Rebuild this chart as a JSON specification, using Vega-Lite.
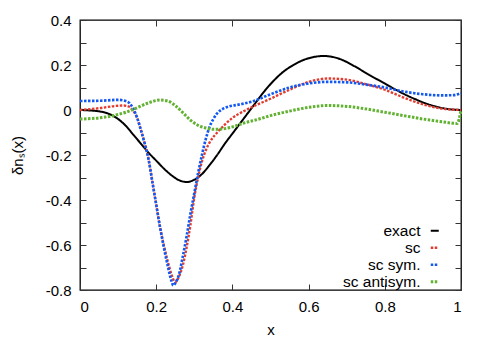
{
  "$schema": "https://vega.github.io/schema/vega-lite/v6.json",
  "width": 381,
  "height": 270,
  "autosize": {"type": "none"},
  "padding": {"left": 80, "top": 20, "right": 30, "bottom": 53},
  "config": {
    "font": "Liberation Sans",
    "view": {"stroke": "black", "strokeWidth": 1.3},
    "axis": {"grid": false, "domain": false, "labelFont": "Liberation Sans", "labelFontSize": 15, "labelColor": "black", "titleFont": "Liberation Sans", "titleFontSize": 15, "titleFontWeight": "normal", "titleColor": "black", "tickColor": "#333", "tickWidth": 1}
  },
  "data": {"values": [
    {"s": "exact", "x": 0, "y": 0}, {"s": "exact", "x": 0.05, "y": -0.006}, {"s": "exact", "x": 0.08, "y": -0.02}, {"s": "exact", "x": 0.1, "y": -0.04}, {"s": "exact", "x": 0.12, "y": -0.07}, {"s": "exact", "x": 0.14, "y": -0.11}, {"s": "exact", "x": 0.16, "y": -0.15}, {"s": "exact", "x": 0.18, "y": -0.19}, {"s": "exact", "x": 0.2, "y": -0.225}, {"s": "exact", "x": 0.22, "y": -0.26}, {"s": "exact", "x": 0.24, "y": -0.29}, {"s": "exact", "x": 0.26, "y": -0.312}, {"s": "exact", "x": 0.28, "y": -0.32}, {"s": "exact", "x": 0.3, "y": -0.31}, {"s": "exact", "x": 0.32, "y": -0.285}, {"s": "exact", "x": 0.34, "y": -0.245}, {"s": "exact", "x": 0.36, "y": -0.2}, {"s": "exact", "x": 0.38, "y": -0.15}, {"s": "exact", "x": 0.4, "y": -0.105}, {"s": "exact", "x": 0.42, "y": -0.06}, {"s": "exact", "x": 0.44, "y": -0.015}, {"s": "exact", "x": 0.46, "y": 0.03}, {"s": "exact", "x": 0.48, "y": 0.075}, {"s": "exact", "x": 0.5, "y": 0.115}, {"s": "exact", "x": 0.53, "y": 0.165}, {"s": "exact", "x": 0.56, "y": 0.2}, {"s": "exact", "x": 0.6, "y": 0.23}, {"s": "exact", "x": 0.64, "y": 0.24}, {"s": "exact", "x": 0.68, "y": 0.228}, {"s": "exact", "x": 0.72, "y": 0.195}, {"s": "exact", "x": 0.76, "y": 0.155}, {"s": "exact", "x": 0.8, "y": 0.118}, {"s": "exact", "x": 0.84, "y": 0.08}, {"s": "exact", "x": 0.88, "y": 0.048}, {"s": "exact", "x": 0.92, "y": 0.022}, {"s": "exact", "x": 0.96, "y": 0.006}, {"s": "exact", "x": 1, "y": 0},
    {"s": "sc", "x": 0, "y": 0}, {"s": "sc", "x": 0.05, "y": 0.008}, {"s": "sc", "x": 0.1, "y": 0.019}, {"s": "sc", "x": 0.115, "y": 0.02}, {"s": "sc", "x": 0.13, "y": 0.013}, {"s": "sc", "x": 0.14, "y": -0.005}, {"s": "sc", "x": 0.15, "y": -0.035}, {"s": "sc", "x": 0.16, "y": -0.09}, {"s": "sc", "x": 0.17, "y": -0.15}, {"s": "sc", "x": 0.18, "y": -0.22}, {"s": "sc", "x": 0.19, "y": -0.32}, {"s": "sc", "x": 0.2, "y": -0.42}, {"s": "sc", "x": 0.21, "y": -0.52}, {"s": "sc", "x": 0.22, "y": -0.6}, {"s": "sc", "x": 0.23, "y": -0.67}, {"s": "sc", "x": 0.24, "y": -0.73}, {"s": "sc", "x": 0.25, "y": -0.765}, {"s": "sc", "x": 0.26, "y": -0.74}, {"s": "sc", "x": 0.27, "y": -0.69}, {"s": "sc", "x": 0.28, "y": -0.61}, {"s": "sc", "x": 0.29, "y": -0.51}, {"s": "sc", "x": 0.3, "y": -0.39}, {"s": "sc", "x": 0.31, "y": -0.3}, {"s": "sc", "x": 0.32, "y": -0.23}, {"s": "sc", "x": 0.33, "y": -0.18}, {"s": "sc", "x": 0.34, "y": -0.145}, {"s": "sc", "x": 0.36, "y": -0.1}, {"s": "sc", "x": 0.38, "y": -0.065}, {"s": "sc", "x": 0.4, "y": -0.035}, {"s": "sc", "x": 0.43, "y": -0.005}, {"s": "sc", "x": 0.46, "y": 0.02}, {"s": "sc", "x": 0.5, "y": 0.05}, {"s": "sc", "x": 0.55, "y": 0.09}, {"s": "sc", "x": 0.6, "y": 0.125}, {"s": "sc", "x": 0.65, "y": 0.14}, {"s": "sc", "x": 0.7, "y": 0.135}, {"s": "sc", "x": 0.75, "y": 0.115}, {"s": "sc", "x": 0.8, "y": 0.09}, {"s": "sc", "x": 0.85, "y": 0.055}, {"s": "sc", "x": 0.9, "y": 0.025}, {"s": "sc", "x": 0.95, "y": 0.006}, {"s": "sc", "x": 1, "y": 0},
    {"s": "sc sym.", "x": 0, "y": 0.04}, {"s": "sc sym.", "x": 0.05, "y": 0.041}, {"s": "sc sym.", "x": 0.1, "y": 0.045}, {"s": "sc sym.", "x": 0.12, "y": 0.04}, {"s": "sc sym.", "x": 0.13, "y": 0.03}, {"s": "sc sym.", "x": 0.14, "y": 0.005}, {"s": "sc sym.", "x": 0.15, "y": -0.035}, {"s": "sc sym.", "x": 0.16, "y": -0.09}, {"s": "sc sym.", "x": 0.17, "y": -0.15}, {"s": "sc sym.", "x": 0.18, "y": -0.22}, {"s": "sc sym.", "x": 0.19, "y": -0.32}, {"s": "sc sym.", "x": 0.2, "y": -0.42}, {"s": "sc sym.", "x": 0.21, "y": -0.52}, {"s": "sc sym.", "x": 0.22, "y": -0.61}, {"s": "sc sym.", "x": 0.23, "y": -0.69}, {"s": "sc sym.", "x": 0.24, "y": -0.76}, {"s": "sc sym.", "x": 0.245, "y": -0.78}, {"s": "sc sym.", "x": 0.25, "y": -0.77}, {"s": "sc sym.", "x": 0.26, "y": -0.73}, {"s": "sc sym.", "x": 0.27, "y": -0.65}, {"s": "sc sym.", "x": 0.28, "y": -0.56}, {"s": "sc sym.", "x": 0.29, "y": -0.46}, {"s": "sc sym.", "x": 0.3, "y": -0.37}, {"s": "sc sym.", "x": 0.31, "y": -0.28}, {"s": "sc sym.", "x": 0.32, "y": -0.2}, {"s": "sc sym.", "x": 0.33, "y": -0.13}, {"s": "sc sym.", "x": 0.34, "y": -0.075}, {"s": "sc sym.", "x": 0.35, "y": -0.04}, {"s": "sc sym.", "x": 0.36, "y": -0.015}, {"s": "sc sym.", "x": 0.37, "y": 0.0}, {"s": "sc sym.", "x": 0.39, "y": 0.015}, {"s": "sc sym.", "x": 0.42, "y": 0.025}, {"s": "sc sym.", "x": 0.45, "y": 0.037}, {"s": "sc sym.", "x": 0.5, "y": 0.07}, {"s": "sc sym.", "x": 0.55, "y": 0.1}, {"s": "sc sym.", "x": 0.6, "y": 0.118}, {"s": "sc sym.", "x": 0.65, "y": 0.125}, {"s": "sc sym.", "x": 0.7, "y": 0.123}, {"s": "sc sym.", "x": 0.75, "y": 0.113}, {"s": "sc sym.", "x": 0.8, "y": 0.1}, {"s": "sc sym.", "x": 0.85, "y": 0.082}, {"s": "sc sym.", "x": 0.9, "y": 0.07}, {"s": "sc sym.", "x": 0.95, "y": 0.065}, {"s": "sc sym.", "x": 0.98, "y": 0.066}, {"s": "sc sym.", "x": 1, "y": 0.075},
    {"s": "sc antisym.", "x": 0, "y": -0.04}, {"s": "sc antisym.", "x": 0.05, "y": -0.035}, {"s": "sc antisym.", "x": 0.1, "y": -0.02}, {"s": "sc antisym.", "x": 0.12, "y": -0.01}, {"s": "sc antisym.", "x": 0.15, "y": 0.01}, {"s": "sc antisym.", "x": 0.18, "y": 0.032}, {"s": "sc antisym.", "x": 0.21, "y": 0.044}, {"s": "sc antisym.", "x": 0.23, "y": 0.04}, {"s": "sc antisym.", "x": 0.25, "y": 0.02}, {"s": "sc antisym.", "x": 0.27, "y": -0.012}, {"s": "sc antisym.", "x": 0.29, "y": -0.045}, {"s": "sc antisym.", "x": 0.31, "y": -0.068}, {"s": "sc antisym.", "x": 0.33, "y": -0.08}, {"s": "sc antisym.", "x": 0.35, "y": -0.086}, {"s": "sc antisym.", "x": 0.37, "y": -0.085}, {"s": "sc antisym.", "x": 0.4, "y": -0.075}, {"s": "sc antisym.", "x": 0.43, "y": -0.058}, {"s": "sc antisym.", "x": 0.47, "y": -0.04}, {"s": "sc antisym.", "x": 0.5, "y": -0.025}, {"s": "sc antisym.", "x": 0.55, "y": -0.005}, {"s": "sc antisym.", "x": 0.6, "y": 0.012}, {"s": "sc antisym.", "x": 0.65, "y": 0.02}, {"s": "sc antisym.", "x": 0.7, "y": 0.016}, {"s": "sc antisym.", "x": 0.75, "y": 0.005}, {"s": "sc antisym.", "x": 0.8, "y": -0.01}, {"s": "sc antisym.", "x": 0.85, "y": -0.025}, {"s": "sc antisym.", "x": 0.9, "y": -0.04}, {"s": "sc antisym.", "x": 0.95, "y": -0.052}, {"s": "sc antisym.", "x": 0.99, "y": -0.06}, {"s": "sc antisym.", "x": 1, "y": 0}
  ]},
  "layer": [
    {
      "mark": {"type": "line", "interpolate": "monotone"},
      "encoding": {
        "x": {"field": "x", "type": "quantitative", "scale": {"domain": [0, 1], "nice": false}, "axis": {"orient": "bottom", "values": [0, 0.2, 0.4, 0.6, 0.8, 1], "format": "~g", "tickSize": -6, "labelPadding": 15, "title": "x", "titlePadding": 8}},
        "y": {"field": "y", "type": "quantitative", "scale": {"domain": [-0.8, 0.4], "nice": false, "zero": false}, "axis": {"orient": "left", "values": [-0.8, -0.7, -0.6, -0.5, -0.4, -0.3, -0.2, -0.1, 0, 0.1, 0.2, 0.3, 0.4], "labelExpr": "abs(round(datum.value*10)) % 2 == 0 ? (datum.value == 0 ? '0' : (datum.value < 0 ? '-' : '') + format(abs(datum.value), '.1f')) : ''", "tickSize": -6, "labelPadding": 15, "title": "δnₛ(x)", "titlePadding": 20}},
        "color": {"field": "s", "type": "nominal", "scale": {"domain": ["exact", "sc", "sc sym.", "sc antisym."], "range": ["#000000", "#e23a2e", "#1458f2", "#62b232"]}, "legend": {"orient": "none", "legendX": 347, "legendY": 203, "title": null, "labelAlign": "right", "labelOffset": -22, "symbolType": "stroke", "symbolSize": 64, "symbolStrokeWidth": 3, "labelFontSize": 15.5, "labelFont": "Liberation Sans", "rowPadding": 0, "labelLimit": 300}},
        "strokeDash": {"field": "s", "type": "nominal", "scale": {"domain": ["exact", "sc", "sc sym.", "sc antisym."], "range": [[1, 0], [2.5, 1.5], [2.5, 1.5], [2.5, 1.5]]}, "legend": {"orient": "none", "legendX": 347, "legendY": 203, "title": null, "labelAlign": "right", "labelOffset": -22, "symbolType": "stroke", "symbolSize": 64, "symbolStrokeWidth": 3, "labelFontSize": 15.5, "labelFont": "Liberation Sans", "rowPadding": 0, "labelLimit": 300}},
        "strokeWidth": {"field": "s", "type": "nominal", "scale": {"domain": ["exact", "sc", "sc sym.", "sc antisym."], "range": [2, 3, 3, 3]}, "legend": null}
      }
    },
    {
      "mark": {"type": "point", "opacity": 0},
      "encoding": {
        "x": {"field": "x", "type": "quantitative", "axis": {"orient": "top", "values": [0, 0.2, 0.4, 0.6, 0.8, 1], "labels": false, "tickSize": -6, "title": null}},
        "y": {"field": "y", "type": "quantitative", "axis": {"orient": "right", "values": [-0.8, -0.7, -0.6, -0.5, -0.4, -0.3, -0.2, -0.1, 0, 0.1, 0.2, 0.3, 0.4], "labels": false, "tickSize": -6, "title": null}}
      }
    }
  ],
  "resolve": {"axis": {"x": "independent", "y": "independent"}}
}
